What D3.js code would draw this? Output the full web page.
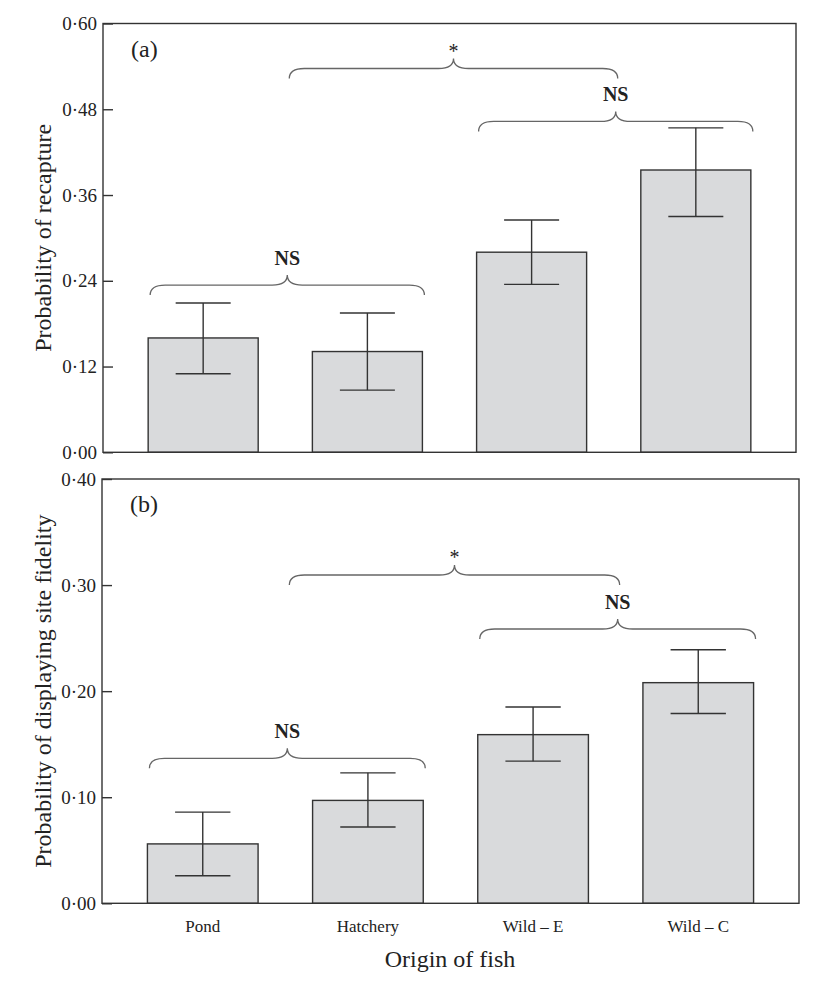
<!DOCTYPE html>
<html>
<head>
<meta charset="utf-8">
<script src="https://cdn.jsdelivr.net/npm/d3@7"></script>
<style>
  html, body { margin: 0; padding: 0; background: #fff; }
  svg { display: block; }
  text { font-family: "Liberation Serif", "Times New Roman", serif; fill: #222; }
</style>
</head>
<body>
<svg id="chart" width="821" height="987"></svg>
<script>
// ---------- data ----------
const categories = ["Pond", "Hatchery", "Wild \u2013 E", "Wild \u2013 C"];

const recapture      = [0.160, 0.141, 0.280, 0.395];
const recaptureLower = [0.110, 0.087, 0.235, 0.330];
const recaptureUpper = [0.209, 0.195, 0.325, 0.454];

const fidelity      = [0.056, 0.097, 0.159, 0.208];
const fidelityLower = [0.026, 0.072, 0.134, 0.179];
const fidelityUpper = [0.086, 0.123, 0.185, 0.239];

const ticksA = [0.00, 0.12, 0.24, 0.36, 0.48, 0.60];
const ticksB = [0.00, 0.10, 0.20, 0.30, 0.40];

// brackets: pair brackets span bar edges, "between" bracket spans pair midpoints
const bracketsA = [
  { type: "pair", cats: ["Pond", "Hatchery"], level: 0.234, label: "NS" },
  { type: "pair", cats: ["Wild \u2013 E", "Wild \u2013 C"], level: 0.463, label: "NS" },
  { type: "between", cats: ["Pond", "Hatchery", "Wild \u2013 E", "Wild \u2013 C"], level: 0.537, label: "*" }
];
const bracketsB = [
  { type: "pair", cats: ["Pond", "Hatchery"], level: 0.1367, label: "NS" },
  { type: "pair", cats: ["Wild \u2013 E", "Wild \u2013 C"], level: 0.2586, label: "NS" },
  { type: "between", cats: ["Pond", "Hatchery", "Wild \u2013 E", "Wild \u2013 C"], level: 0.3095, label: "*" }
];

// ---------- drawing ----------
const svg = d3.select("#chart");
const fmt = v => d3.format(".2f")(v).replace(".", "\u00B7");

function bracePath(x1, x2, y) {
  const xm = (x1 + x2) / 2, r = 15, h = 10;
  return `M${x1},${y + h} Q${x1},${y} ${x1 + r},${y} L${xm - r},${y} Q${xm},${y} ${xm},${y - h}` +
         ` Q${xm},${y} ${xm + r},${y} L${x2 - r},${y} Q${x2},${y} ${x2},${y + h}`;
}

function panel(opts) {
  const { left, right, top, bottom, max, ticks, values, lower, upper, brackets, tag, ylabel, showCats } = opts;
  const g = svg.append("g");
  const x = d3.scaleBand().domain(categories).range([left, right])
    .paddingInner(0.33).paddingOuter(0.275);
  const y = d3.scaleLinear().domain([0, max]).range([bottom, top]);

  // bars
  g.selectAll("rect.bar").data(categories).join("rect")
    .attr("class", "bar")
    .attr("x", d => x(d))
    .attr("y", (d, i) => y(values[i]))
    .attr("width", x.bandwidth())
    .attr("height", (d, i) => y(0) - y(values[i]))
    .attr("fill", "#d9dadc")
    .attr("stroke", "#333")
    .attr("stroke-width", 1.4);

  // error bars
  const cap = x.bandwidth() / 4;
  const eb = g.selectAll("g.err").data(categories).join("g").attr("class", "err")
    .attr("stroke", "#333").attr("stroke-width", 1.4);
  eb.append("line")
    .attr("x1", d => x(d) + x.bandwidth() / 2).attr("x2", d => x(d) + x.bandwidth() / 2)
    .attr("y1", (d, i) => y(lower[i])).attr("y2", (d, i) => y(upper[i]));
  eb.append("line")
    .attr("x1", d => x(d) + x.bandwidth() / 2 - cap).attr("x2", d => x(d) + x.bandwidth() / 2 + cap)
    .attr("y1", (d, i) => y(upper[i])).attr("y2", (d, i) => y(upper[i]));
  eb.append("line")
    .attr("x1", d => x(d) + x.bandwidth() / 2 - cap).attr("x2", d => x(d) + x.bandwidth() / 2 + cap)
    .attr("y1", (d, i) => y(lower[i])).attr("y2", (d, i) => y(lower[i]));

  // frame
  g.append("rect")
    .attr("x", left).attr("y", top)
    .attr("width", right - left).attr("height", bottom - top)
    .attr("fill", "none").attr("stroke", "#333").attr("stroke-width", 1.4);

  // y axis (ticks inward)
  const yAxis = d3.axisLeft(y).tickValues(ticks).tickFormat(fmt).tickSizeInner(-10).tickSizeOuter(0).tickPadding(8);
  const ya = g.append("g").attr("transform", `translate(${left},0)`).call(yAxis);
  ya.select(".domain").remove();
  ya.selectAll(".tick line").attr("stroke", "#333").attr("stroke-width", 1.4);
  ya.selectAll(".tick text")
    .attr("x", -6)
    .style("font-family", "'Liberation Serif', 'Times New Roman', serif")
    .style("font-size", "19px").attr("fill", "#222");

  // brackets
  brackets.forEach(b => {
    let x1, x2;
    if (b.type === "pair") {
      x1 = x(b.cats[0]) + 2;
      x2 = x(b.cats[1]) + x.bandwidth() + 2;
    } else {
      x1 = (x(b.cats[0]) + x(b.cats[1]) + x.bandwidth()) / 2 + 4;
      x2 = (x(b.cats[2]) + x(b.cats[3]) + x.bandwidth()) / 2 + 4;
    }
    const yl = y(b.level);
    g.append("path").attr("d", bracePath(x1, x2, yl))
      .attr("fill", "none").attr("stroke", "#666").attr("stroke-width", 1.3);
    const xm = (x1 + x2) / 2;
    if (b.label === "*") {
      g.append("text").attr("x", xm).attr("y", yl - 11)
        .attr("text-anchor", "middle").style("font-size", "20px").attr("fill", "#444").text(b.label);
    } else {
      g.append("text").attr("x", xm).attr("y", yl - 20)
        .attr("text-anchor", "middle").style("font-size", "20px").style("font-weight", "bold").text(b.label);
    }
  });

  // panel tag
  g.append("text").attr("x", left + 28).attr("y", top + 33)
    .style("font-size", "24px").text(tag);

  // y label
  g.append("text")
    .attr("transform", `translate(51,${(top + bottom) / 2}) rotate(-90)`)
    .attr("text-anchor", "middle").style("font-size", "24px").text(ylabel);

  if (showCats) {
    g.selectAll("text.cat").data(categories).join("text").attr("class", "cat")
      .attr("x", d => x(d) + x.bandwidth() / 2).attr("y", bottom + 29)
      .attr("text-anchor", "middle").style("font-size", "17px").text(d => d);
  }
}

panel({ left: 103, right: 796, top: 23.5, bottom: 452.3, max: 0.60, ticks: ticksA,
  values: recapture, lower: recaptureLower, upper: recaptureUpper, brackets: bracketsA,
  tag: "(a)", ylabel: "Probability of recapture", showCats: false });

panel({ left: 102, right: 799, top: 479, bottom: 903.3, max: 0.40, ticks: ticksB,
  values: fidelity, lower: fidelityLower, upper: fidelityUpper, brackets: bracketsB,
  tag: "(b)", ylabel: "Probability of displaying site fidelity", showCats: true });

svg.append("text").attr("x", 450).attr("y", 967).attr("text-anchor", "middle")
  .style("font-size", "24px").text("Origin of fish");
</script>
</body>
</html>
